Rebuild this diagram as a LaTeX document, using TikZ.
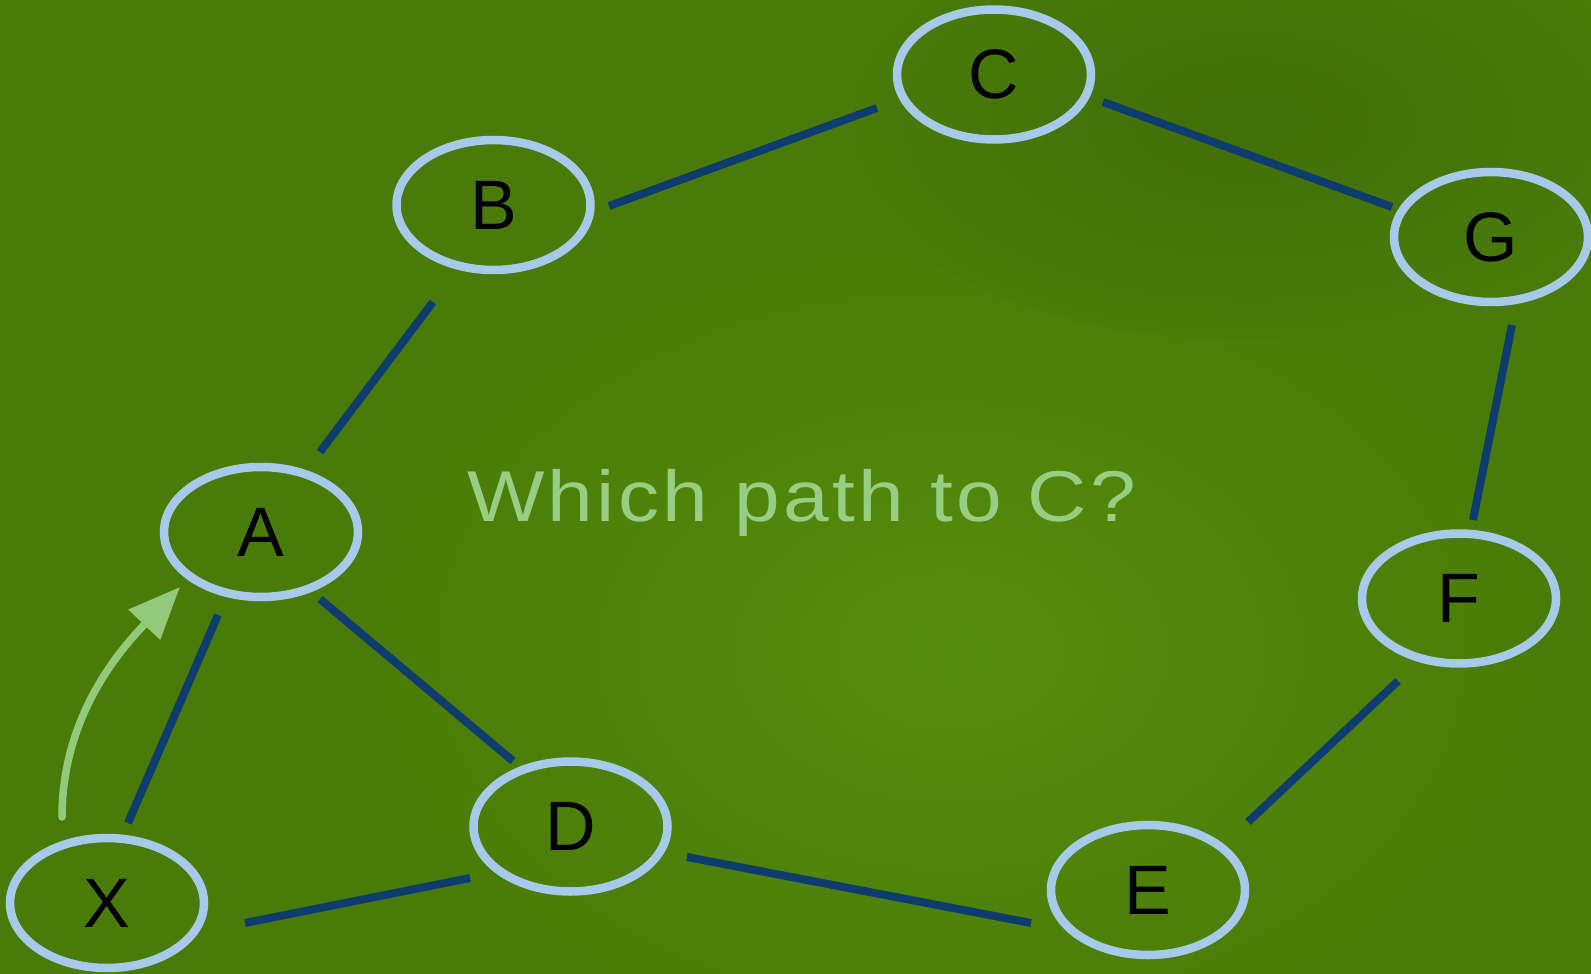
\documentclass[tikz,border=0pt]{standalone}
\usepackage{fontspec}
\setmainfont{Liberation Sans}
\newfontfamily\titlefont[LetterSpace=4]{Liberation Sans}
\usetikzlibrary{arrows.meta,calc,shapes.geometric}
\definecolor{bggreen}{HTML}{4A7B08}
\definecolor{bglight}{HTML}{578D0C}
\definecolor{bgdark}{HTML}{416F08}
\definecolor{ringblue}{HTML}{A8CAEA}
\definecolor{edgeblue}{HTML}{0F3C6E}
\definecolor{flowgreen}{HTML}{93C97B}
\definecolor{titlegreen}{HTML}{98CE84}
\tikzset{
  vertex/.style={ellipse, draw=ringblue, line width=8.5pt, minimum width=194pt,
    minimum height=130pt, inner sep=0pt, font=\fontsize{70}{70}\selectfont, text=black},
  link/.style={draw=edgeblue, line width=8pt},
  flow/.style={draw=flowgreen, line width=7.5pt, line cap=round,
    -{Triangle[width=42pt,length=52pt]}},
  title/.style={text=titlegreen, font=\titlefont\fontsize{72}{72}\selectfont, inner sep=0pt}
}
\begin{document}
\begin{tikzpicture}[x=1pt,y=-1pt]
\useasboundingbox (0,0) rectangle (1591,974);
\fill[bggreen] (0,0) rectangle (1591,974);
\begin{scope}
\clip (0,0) rectangle (1591,974);
\shade[inner color=bglight, outer color=bggreen] (950,650) ellipse (600 and 420);
\shade[inner color=bgdark, outer color=bggreen] (1250,120) ellipse (420 and 220);
\end{scope}

\node[vertex] (X) at (107,903) {X};
\node[vertex] (A) at (261,532) {A};
\node[vertex] (B) at (493.5,205) {B};
\node[vertex] (C) at (994,74.5) {C};
\node[vertex] (G) at (1491,237) {G};
\node[vertex] (F) at (1459,598.5) {F};
\node[vertex] (E) at (1148,890) {E};
\node[vertex] (D) at (570.5,826.5) {D};

\node[title, anchor=base west, xscale=1.14, transform shape] (Q) at (467,521) {Which path to C?};

\draw[link] ($(A)+(59,-80)$) -- ($(B)+(-60.5,97)$);
\draw[link] ($(B)+(115.5,1)$) -- ($(C)+(-117,33.5)$);
\draw[link] ($(C)+(109,27.5)$) -- ($(G)+(-99,-30)$);
\draw[link] ($(G)+(21,88)$) -- ($(F)+(14,-78.5)$);
\draw[link] ($(F)+(-61,82.5)$) -- ($(E)+(100,-68)$);
\draw[link] ($(E)+(-117,33)$) -- ($(D)+(116.5,30.5)$);
\draw[link] ($(D)+(-100.5,51.5)$) -- ($(X)+(138,20)$);
\draw[link] ($(A)+(59,67)$) -- ($(D)+(-57.5,-65.5)$);
\draw[link] ($(A)+(-43,83)$) -- ($(X)+(21,-80)$);

\coordinate (fs) at ($(X)+(-45,-86)$);
\coordinate (fe) at ($(A)+(-81,55)$);
\draw[flow] (fs) .. controls ($(fs)+(0,-105)$) and ($(fe)+(-55,58)$) .. (fe);
\end{tikzpicture}
\end{document}
